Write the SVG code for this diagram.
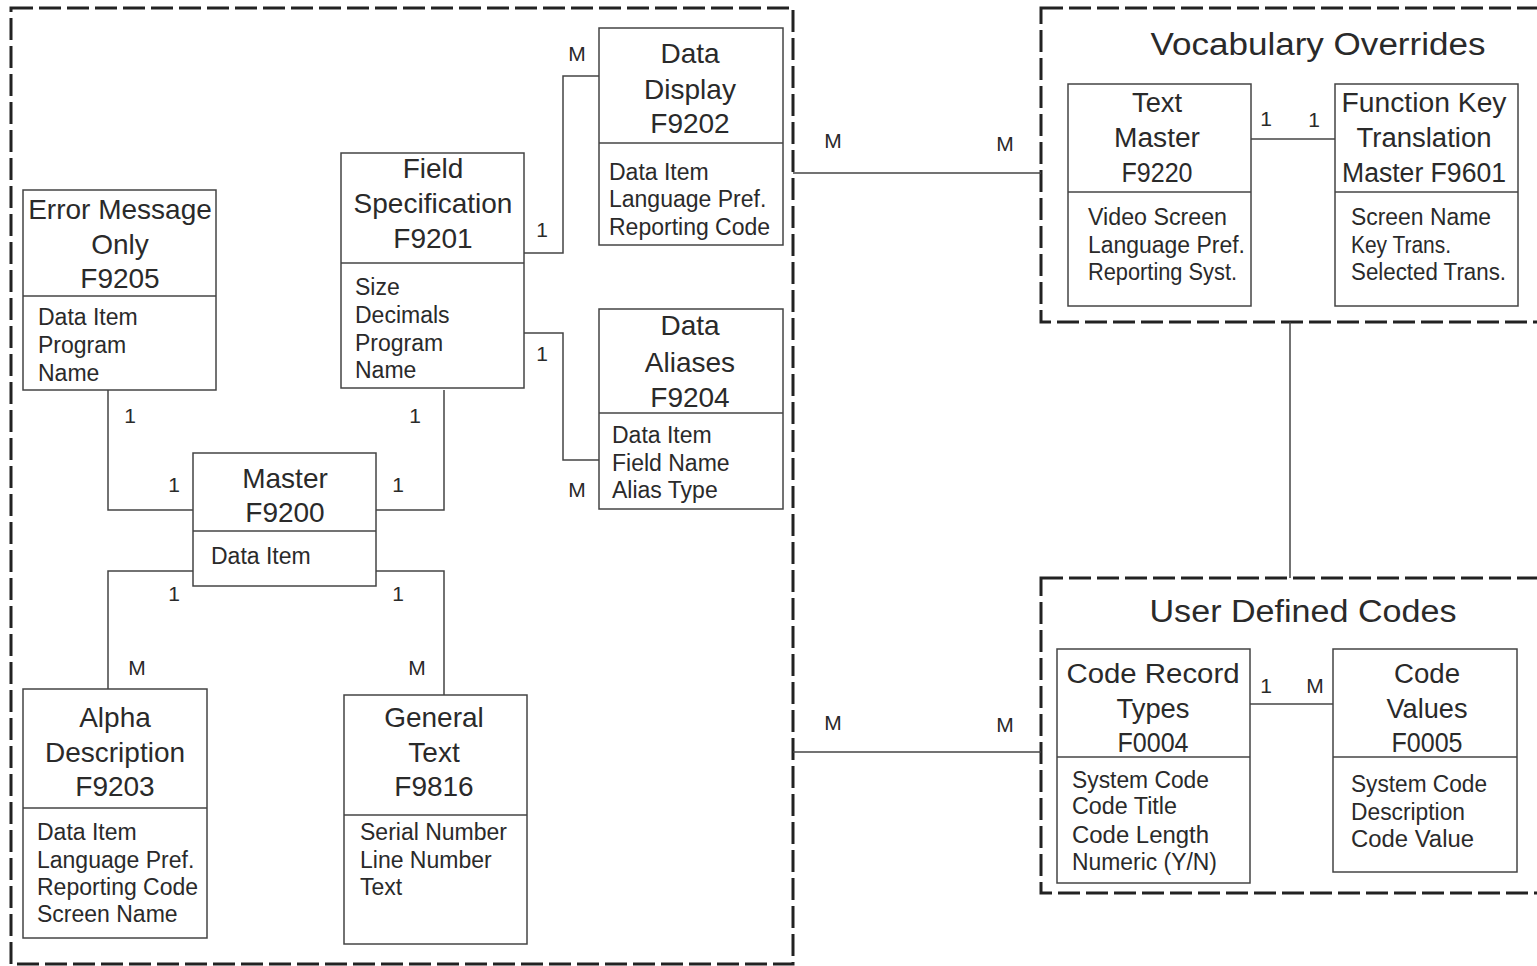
<svg xmlns="http://www.w3.org/2000/svg" width="1537" height="966" viewBox="0 0 1537 966">
<style>
text{font-family:"Liberation Sans",Arial,sans-serif;fill:#2a2a2a}
.t{font-size:28px;text-anchor:middle}
.a{font-size:23px}
.l{font-size:21px;text-anchor:middle}
.g{font-size:31px;text-anchor:middle}
.ct{font-size:27px;text-anchor:middle}
.ca{font-size:23px}
.box{fill:#fff;stroke:#444;stroke-width:1.5}
.div{stroke:#444;stroke-width:1.5}
.con{fill:none;stroke:#444;stroke-width:1.5}
.dash{fill:none;stroke:#222;stroke-width:3;stroke-dasharray:22 6}
</style>
<rect width="1537" height="966" fill="#fff"/>
<g id="groups">
<rect class="dash" x="11" y="8" width="782" height="956"/>
<rect class="dash" x="1041" y="8" width="520" height="314"/>
<rect class="dash" x="1041" y="578" width="520" height="315"/>
<text class="g" x="1318" y="55" textLength="335" lengthAdjust="spacingAndGlyphs">Vocabulary Overrides</text>
<text class="g" x="1303" y="622" textLength="307" lengthAdjust="spacingAndGlyphs">User Defined Codes</text>
</g>
<g id="connectors">
<polyline class="con" points="108,390 108,510 193,510"/>
<polyline class="con" points="444,390 444,510 376,510"/>
<polyline class="con" points="193,571 108,571 108,689"/>
<polyline class="con" points="376,571 444,571 444,695"/>
<polyline class="con" points="524,253 563,253 563,76 599,76"/>
<polyline class="con" points="524,333 563,333 563,460 599,460"/>
<line class="con" x1="793" y1="173" x2="1041" y2="173"/>
<line class="con" x1="793" y1="752" x2="1041" y2="752"/>
<line class="con" x1="1290" y1="322" x2="1290" y2="578"/>
<line class="con" x1="1251" y1="139" x2="1335" y2="139"/>
<line class="con" x1="1250" y1="704" x2="1333" y2="704"/>
<text class="l" x="130" y="423">1</text>
<text class="l" x="174" y="492">1</text>
<text class="l" x="415" y="423">1</text>
<text class="l" x="398" y="492">1</text>
<text class="l" x="174" y="601">1</text>
<text class="l" x="398" y="601">1</text>
<text class="l" x="137" y="675">M</text>
<text class="l" x="417" y="675">M</text>
<text class="l" x="542" y="237">1</text>
<text class="l" x="577" y="61">M</text>
<text class="l" x="542" y="361">1</text>
<text class="l" x="577" y="497">M</text>
<text class="l" x="833" y="148">M</text>
<text class="l" x="1005" y="151">M</text>
<text class="l" x="833" y="730">M</text>
<text class="l" x="1005" y="732">M</text>
<text class="l" x="1266" y="126">1</text>
<text class="l" x="1314" y="127">1</text>
<text class="l" x="1266" y="693">1</text>
<text class="l" x="1315" y="693">M</text>
</g>
<g id="f9205">
<rect class="box" x="23" y="190" width="193" height="200"/>
<line class="div" x1="23" y1="296" x2="216" y2="296"/>
<text class="t" x="120" y="219">Error Message</text>
<text class="t" x="120" y="254">Only</text>
<text class="t" x="120" y="288">F9205</text>
<text class="a" x="38" y="325">Data Item</text>
<text class="a" x="38" y="353">Program</text>
<text class="a" x="38" y="381">Name</text>
</g>
<g id="f9201">
<rect class="box" x="341" y="153" width="183" height="235"/>
<line class="div" x1="341" y1="263" x2="524" y2="263"/>
<text class="t" x="433" y="178">Field</text>
<text class="t" x="433" y="213">Specification</text>
<text class="t" x="433" y="248">F9201</text>
<text class="a" x="355" y="295">Size</text>
<text class="a" x="355" y="323">Decimals</text>
<text class="a" x="355" y="351">Program</text>
<text class="a" x="355" y="378">Name</text>
</g>
<g id="f9202">
<rect class="box" x="599" y="28" width="184" height="217"/>
<line class="div" x1="599" y1="143" x2="783" y2="143"/>
<text class="t" x="690" y="63">Data</text>
<text class="t" x="690" y="99">Display</text>
<text class="t" x="690" y="133">F9202</text>
<text class="a" x="609" y="180">Data Item</text>
<text class="a" x="609" y="207">Language Pref.</text>
<text class="a" x="609" y="235">Reporting Code</text>
</g>
<g id="f9204">
<rect class="box" x="599" y="309" width="184" height="200"/>
<line class="div" x1="599" y1="413" x2="783" y2="413"/>
<text class="t" x="690" y="335">Data</text>
<text class="t" x="690" y="372">Aliases</text>
<text class="t" x="690" y="407">F9204</text>
<text class="a" x="612" y="443">Data Item</text>
<text class="a" x="612" y="471">Field Name</text>
<text class="a" x="612" y="498">Alias Type</text>
</g>
<g id="f9200">
<rect class="box" x="193" y="453" width="183" height="133"/>
<line class="div" x1="193" y1="531" x2="376" y2="531"/>
<text class="t" x="285" y="488">Master</text>
<text class="t" x="285" y="522">F9200</text>
<text class="a" x="211" y="564">Data Item</text>
</g>
<g id="f9203">
<rect class="box" x="23" y="689" width="184" height="249"/>
<line class="div" x1="23" y1="808" x2="207" y2="808"/>
<text class="t" x="115" y="727">Alpha</text>
<text class="t" x="115" y="762">Description</text>
<text class="t" x="115" y="796">F9203</text>
<text class="a" x="37" y="840">Data Item</text>
<text class="a" x="37" y="868">Language Pref.</text>
<text class="a" x="37" y="895">Reporting Code</text>
<text class="a" x="37" y="922">Screen Name</text>
</g>
<g id="f9816">
<rect class="box" x="344" y="695" width="183" height="249"/>
<line class="div" x1="344" y1="815" x2="527" y2="815"/>
<text class="t" x="434" y="727">General</text>
<text class="t" x="434" y="762">Text</text>
<text class="t" x="434" y="796">F9816</text>
<text class="a" x="360" y="840">Serial Number</text>
<text class="a" x="360" y="868">Line Number</text>
<text class="a" x="360" y="895">Text</text>
</g>
<g id="f9220">
<rect class="box" x="1068" y="84" width="183" height="222"/>
<line class="div" x1="1068" y1="192" x2="1251" y2="192"/>
<text class="ct" x="1157" y="112" textLength="50" lengthAdjust="spacingAndGlyphs">Text</text>
<text class="ct" x="1157" y="147" textLength="86" lengthAdjust="spacingAndGlyphs">Master</text>
<text class="ct" x="1157" y="182" textLength="71" lengthAdjust="spacingAndGlyphs">F9220</text>
<text class="ca" x="1088" y="225" textLength="139" lengthAdjust="spacingAndGlyphs">Video Screen</text>
<text class="ca" x="1088" y="253" textLength="157" lengthAdjust="spacingAndGlyphs">Language Pref.</text>
<text class="ca" x="1088" y="280" textLength="149" lengthAdjust="spacingAndGlyphs">Reporting Syst.</text>
</g>
<g id="f9601">
<rect class="box" x="1335" y="84" width="183" height="222"/>
<line class="div" x1="1335" y1="192" x2="1518" y2="192"/>
<text class="ct" x="1424" y="112" textLength="165" lengthAdjust="spacingAndGlyphs">Function Key</text>
<text class="ct" x="1424" y="147" textLength="135" lengthAdjust="spacingAndGlyphs">Translation</text>
<text class="ct" x="1424" y="182" textLength="164" lengthAdjust="spacingAndGlyphs">Master F9601</text>
<text class="ca" x="1351" y="225" textLength="140" lengthAdjust="spacingAndGlyphs">Screen Name</text>
<text class="ca" x="1351" y="253" textLength="100" lengthAdjust="spacingAndGlyphs">Key Trans.</text>
<text class="ca" x="1351" y="280" textLength="155" lengthAdjust="spacingAndGlyphs">Selected Trans.</text>
</g>
<g id="f0004">
<rect class="box" x="1057" y="649" width="193" height="234"/>
<line class="div" x1="1057" y1="757" x2="1250" y2="757"/>
<text class="ct" x="1153" y="683" textLength="173" lengthAdjust="spacingAndGlyphs">Code Record</text>
<text class="ct" x="1153" y="718" textLength="73" lengthAdjust="spacingAndGlyphs">Types</text>
<text class="ct" x="1153" y="752" textLength="71" lengthAdjust="spacingAndGlyphs">F0004</text>
<text class="ca" x="1072" y="788" textLength="137" lengthAdjust="spacingAndGlyphs">System Code</text>
<text class="ca" x="1072" y="814" textLength="105" lengthAdjust="spacingAndGlyphs">Code Title</text>
<text class="ca" x="1072" y="843" textLength="137" lengthAdjust="spacingAndGlyphs">Code Length</text>
<text class="ca" x="1072" y="870" textLength="145" lengthAdjust="spacingAndGlyphs">Numeric (Y/N)</text>
</g>
<g id="f0005">
<rect class="box" x="1333" y="649" width="184" height="223"/>
<line class="div" x1="1333" y1="757" x2="1517" y2="757"/>
<text class="ct" x="1427" y="683" textLength="66" lengthAdjust="spacingAndGlyphs">Code</text>
<text class="ct" x="1427" y="718" textLength="81" lengthAdjust="spacingAndGlyphs">Values</text>
<text class="ct" x="1427" y="752" textLength="71" lengthAdjust="spacingAndGlyphs">F0005</text>
<text class="ca" x="1351" y="792" textLength="136" lengthAdjust="spacingAndGlyphs">System Code</text>
<text class="ca" x="1351" y="820" textLength="114" lengthAdjust="spacingAndGlyphs">Description</text>
<text class="ca" x="1351" y="847" textLength="123" lengthAdjust="spacingAndGlyphs">Code Value</text>
</g>
</svg>
